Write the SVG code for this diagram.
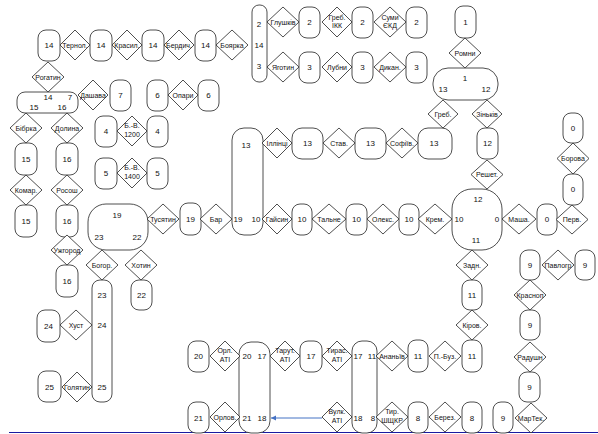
<svg xmlns="http://www.w3.org/2000/svg" width="598" height="434" viewBox="0 0 598 434">
<style>
.b{fill:#fff;stroke:#222;stroke-width:0.8}
.d{fill:#fff;stroke:#222;stroke-width:0.8}
text{font-family:"Liberation Sans Narrow","Liberation Sans",Arial,sans-serif;font-size:8px;fill:#111;text-anchor:middle}
.s{font-size:7px}
</style>
<defs>
<marker id="ah" markerWidth="6" markerHeight="6" refX="5" refY="3" orient="auto" markerUnits="userSpaceOnUse">
<path d="M0,0.5 L5,3 L0,5.5 Z" fill="#4472c4"/>
</marker>
</defs>
<rect width="598" height="434" fill="#fff"/>
<g id="connectors">
<line x1="322" y1="418" x2="271" y2="418" stroke="#4472c4" stroke-width="1" marker-end="url(#ah)"/>
<line x1="9" y1="432.5" x2="598" y2="432.5" stroke="#1a1aa0" stroke-width="1.2"/>
</g>
<g id="boxes">
<g id="b1"><rect class="b" x="38" y="30" width="22" height="31" rx="8"/><text x="49" y="48">14</text></g>
<g id="b2"><rect class="b" x="90" y="30" width="22" height="31" rx="8"/><text x="101" y="48">14</text></g>
<g id="b3"><rect class="b" x="142" y="30" width="22" height="31" rx="8"/><text x="153" y="48">14</text></g>
<g id="b4"><rect class="b" x="195" y="30" width="21" height="31" rx="8"/><text x="205.5" y="48">14</text></g>
<g id="b5"><rect class="b" x="252" y="5" width="15" height="77" rx="7"/><text x="259" y="27">2</text><text x="259" y="48">14</text><text x="259" y="69">3</text></g>
<g id="b6"><rect class="b" x="299" y="7" width="21" height="31" rx="8"/><text x="309.5" y="25">2</text></g>
<g id="b7"><rect class="b" x="352" y="7" width="21" height="31" rx="8"/><text x="362.5" y="25">2</text></g>
<g id="b8"><rect class="b" x="406" y="7" width="21" height="31" rx="8"/><text x="416.5" y="25">2</text></g>
<g id="b9"><rect class="b" x="299" y="52" width="21" height="31" rx="8"/><text x="309.5" y="70">3</text></g>
<g id="b10"><rect class="b" x="352" y="52" width="21" height="31" rx="8"/><text x="362.5" y="70">3</text></g>
<g id="b11"><rect class="b" x="406" y="52" width="21" height="31" rx="8"/><text x="416.5" y="70">3</text></g>
<g id="b12"><rect class="b" x="455" y="6" width="21" height="32" rx="8"/><text x="465.5" y="25">1</text></g>
<g id="b13"><rect class="b" x="433" y="68" width="65" height="32" rx="15"/><text x="465" y="81">1</text><text x="443" y="92">13</text><text x="486" y="92">12</text></g>
<g id="b14"><rect class="b" x="17" y="92" width="61" height="21" rx="8"/><text x="48" y="100">14</text><text x="70" y="100">7</text><text x="34" y="110">15</text><text x="62" y="110">16</text></g>
<g id="b15"><rect class="b" x="110" y="80" width="21" height="31" rx="8"/><text x="120.5" y="98">7</text></g>
<g id="b16"><rect class="b" x="147" y="80" width="21" height="31" rx="8"/><text x="157.5" y="98">6</text></g>
<g id="b17"><rect class="b" x="198" y="80" width="21" height="31" rx="8"/><text x="208.5" y="98">6</text></g>
<g id="b18"><rect class="b" x="95" y="116" width="22" height="31" rx="8"/><text x="106" y="134">4</text></g>
<g id="b19"><rect class="b" x="147" y="116" width="21" height="31" rx="8"/><text x="157.5" y="134">4</text></g>
<g id="b20"><rect class="b" x="95" y="158" width="22" height="31" rx="8"/><text x="106" y="176">5</text></g>
<g id="b21"><rect class="b" x="147" y="158" width="21" height="31" rx="8"/><text x="157.5" y="176">5</text></g>
<g id="b22"><rect class="b" x="15" y="143" width="22" height="32" rx="8"/><text x="26" y="162">15</text></g>
<g id="b23"><rect class="b" x="56" y="143" width="22" height="32" rx="8"/><text x="67" y="162">16</text></g>
<g id="b24"><rect class="b" x="15" y="205" width="22" height="32" rx="8"/><text x="26" y="224">15</text></g>
<g id="b25"><rect class="b" x="56" y="205" width="22" height="32" rx="8"/><text x="67" y="224">16</text></g>
<g id="b26"><rect class="b" x="56" y="265" width="22" height="32" rx="8"/><text x="67" y="284">16</text></g>
<g id="b27"><rect class="b" x="88" y="204" width="60" height="46" rx="18"/><text x="117" y="218">19</text><text x="99" y="240">23</text><text x="137" y="240">22</text></g>
<g id="b28"><rect class="b" x="180" y="203" width="21" height="32" rx="8"/><text x="190.5" y="222">19</text></g>
<g id="b29"><rect class="b" x="232" y="128" width="31" height="107" rx="12"/><text x="246" y="148">13</text><text x="238" y="222">19</text><text x="256" y="222">10</text></g>
<g id="b30"><rect class="b" x="292" y="128" width="31" height="31" rx="10"/><text x="307.5" y="146">13</text></g>
<g id="b31"><rect class="b" x="355" y="128" width="31" height="31" rx="10"/><text x="370.5" y="146">13</text></g>
<g id="b32"><rect class="b" x="418" y="128" width="34" height="31" rx="10"/><text x="434" y="146">13</text></g>
<g id="b33"><rect class="b" x="477" y="128" width="21" height="31" rx="8"/><text x="487.5" y="146">12</text></g>
<g id="b34"><rect class="b" x="563" y="113" width="20" height="30" rx="8"/><text x="573" y="131">0</text></g>
<g id="b35"><rect class="b" x="563" y="174" width="20" height="31" rx="8"/><text x="573" y="192">0</text></g>
<g id="b36"><rect class="b" x="292" y="204" width="20" height="31" rx="8"/><text x="302" y="222">10</text></g>
<g id="b37"><rect class="b" x="346" y="204" width="21" height="31" rx="8"/><text x="356.5" y="222">10</text></g>
<g id="b38"><rect class="b" x="399" y="204" width="20" height="31" rx="8"/><text x="409" y="222">10</text></g>
<g id="b39"><rect class="b" x="452" y="189" width="50" height="61" rx="20"/><text x="478" y="202">12</text><text x="459" y="222">10</text><text x="497" y="222">0</text><text x="476" y="243">11</text></g>
<g id="b40"><rect class="b" x="537" y="204" width="20" height="31" rx="8"/><text x="547" y="222">0</text></g>
<g id="b41"><rect class="b" x="131" y="280" width="21" height="30" rx="8"/><text x="141.5" y="298">22</text></g>
<g id="b42"><rect class="b" x="92" y="280" width="20" height="122" rx="8"/><text x="102" y="298">23</text><text x="102" y="328">24</text><text x="102" y="390">25</text></g>
<g id="b43"><rect class="b" x="37" y="310" width="23" height="32" rx="8"/><text x="48.5" y="329">24</text></g>
<g id="b44"><rect class="b" x="38" y="371" width="23" height="31" rx="8"/><text x="49.5" y="390">25</text></g>
<g id="b45"><rect class="b" x="462" y="280" width="20" height="30" rx="8"/><text x="472" y="298">11</text></g>
<g id="b46"><rect class="b" x="462" y="340" width="20" height="32" rx="8"/><text x="472" y="359">11</text></g>
<g id="b47"><rect class="b" x="408" y="340" width="20" height="32" rx="8"/><text x="418" y="359">11</text></g>
<g id="b48"><rect class="b" x="520" y="250" width="20" height="30" rx="8"/><text x="530" y="268">9</text></g>
<g id="b49"><rect class="b" x="575" y="250" width="20" height="30" rx="8"/><text x="585" y="268">9</text></g>
<g id="b50"><rect class="b" x="520" y="310" width="20" height="30" rx="8"/><text x="530" y="328">9</text></g>
<g id="b51"><rect class="b" x="519" y="372" width="21" height="30" rx="8"/><text x="529.5" y="390">9</text></g>
<g id="b52"><rect class="b" x="493" y="402" width="20" height="31" rx="8"/><text x="503" y="421">9</text></g>
<g id="b53"><rect class="b" x="188" y="341" width="21" height="31" rx="8"/><text x="198.5" y="359">20</text></g>
<g id="b54"><rect class="b" x="188" y="402" width="21" height="31" rx="8"/><text x="198.5" y="421">21</text></g>
<g id="b55"><rect class="b" x="239" y="342" width="31" height="91" rx="12"/><text x="247" y="359">20</text><text x="262" y="359">17</text><text x="247" y="421">21</text><text x="262" y="421">18</text></g>
<g id="b56"><rect class="b" x="300" y="341" width="22" height="31" rx="8"/><text x="311" y="359">17</text></g>
<g id="b57"><rect class="b" x="352" y="341" width="25" height="92" rx="10"/><text x="358" y="359">17</text><text x="372" y="359">11</text><text x="358" y="421">18</text><text x="373" y="421">8</text></g>
<g id="b58"><rect class="b" x="408" y="402" width="20" height="31" rx="8"/><text x="418" y="421">8</text></g>
<g id="b59"><rect class="b" x="462" y="402" width="20" height="31" rx="8"/><text x="472" y="421">8</text></g>
</g>
<g id="diamonds">
<g id="d1"><polygon class="d" points="75,30 90,45 75,60 60,45"/><text class="s" x="75" y="47.5">Тернол.</text></g>
<g id="d2"><polygon class="d" points="127,30 142,45 127,60 112,45"/><text class="s" x="127" y="47.5">Красил.</text></g>
<g id="d3"><polygon class="d" points="179,30 194,45 179,60 164,45"/><text class="s" x="179" y="47.5">Бердич.</text></g>
<g id="d4"><polygon class="d" points="232,30 248,45 232,60 216,45"/><text class="s" x="232" y="47.5">Боярка</text></g>
<g id="d5"><polygon class="d" points="283,7 299,22 283,37 267,22"/><text class="s" x="283" y="24.5">Глушків</text></g>
<g id="d6"><polygon class="d" points="337,7 352,22 337,37 322,22"/><text class="s" x="337" y="20">Греб.</text><text class="s" x="337" y="28">ІКК</text></g>
<g id="d7"><polygon class="d" points="390,7 406,22 390,37 374,22"/><text class="s" x="390" y="20">Суми</text><text class="s" x="390" y="28">ЄКД</text></g>
<g id="d8"><polygon class="d" points="283,52 299,67 283,82 267,67"/><text class="s" x="283" y="69.5">Яготин</text></g>
<g id="d9"><polygon class="d" points="337,52 352,67 337,82 322,67"/><text class="s" x="337" y="69.5">Лубни</text></g>
<g id="d10"><polygon class="d" points="390,52 406,67 390,82 374,67"/><text class="s" x="390" y="69.5">Дикан.</text></g>
<g id="d11"><polygon class="d" points="465,38 481,53 465,68 449,53"/><text class="s" x="465" y="55.5">Ромни</text></g>
<g id="d12"><polygon class="d" points="48,62 64,77 48,92 32,77"/><text class="s" x="48" y="79.5">Рогатин</text></g>
<g id="d13"><polygon class="d" points="93,80 108,95 93,110 78,95"/><text class="s" x="93" y="97.5">Дашава</text></g>
<g id="d14"><polygon class="d" points="183,80 198,95 183,110 168,95"/><text class="s" x="183" y="97.5">Опари</text></g>
<g id="d15"><polygon class="d" points="443,100 458,114 443,128 428,114"/><text class="s" x="443" y="116.5">Греб.</text></g>
<g id="d16"><polygon class="d" points="487,100 502,114 487,128 472,114"/><text class="s" x="487" y="116.5">Зіньків</text></g>
<g id="d17"><polygon class="d" points="26,113 42,128 26,143 10,128"/><text class="s" x="26" y="130.5">Бібрка</text></g>
<g id="d18"><polygon class="d" points="67,113 83,128 67,143 51,128"/><text class="s" x="67" y="130.5">Долина</text></g>
<g id="d19"><polygon class="d" points="132,116 147,131 132,146 117,131"/><text class="s" x="132" y="128">Б.-В.</text><text class="s" x="132" y="136.5">1200</text></g>
<g id="d20"><polygon class="d" points="132,158 147,173 132,188 117,173"/><text class="s" x="132" y="170">Б.-В.</text><text class="s" x="132" y="178.5">1400</text></g>
<g id="d21"><polygon class="d" points="26,175 42,190 26,205 10,190"/><text class="s" x="26" y="192.5">Комар.</text></g>
<g id="d22"><polygon class="d" points="67,175 83,190 67,205 51,190"/><text class="s" x="67" y="192.5">Росош</text></g>
<g id="d23"><polygon class="d" points="277,128 292,143 277,158 262,143"/><text class="s" x="277" y="145.5">Іллінці</text></g>
<g id="d24"><polygon class="d" points="339,128 355,143 339,158 323,143"/><text class="s" x="339" y="145.5">Став.</text></g>
<g id="d25"><polygon class="d" points="402,128 418,143 402,158 386,143"/><text class="s" x="402" y="145.5">Софіїв.</text></g>
<g id="d26"><polygon class="d" points="487,160 503,174.5 487,189 471,174.5"/><text class="s" x="487" y="177">Решет.</text></g>
<g id="d27"><polygon class="d" points="573,143 589,158.5 573,174 557,158.5"/><text class="s" x="573" y="161">Борова</text></g>
<g id="d28"><polygon class="d" points="163,204 179,219 163,234 147,219"/><text class="s" x="163" y="221.5">Тусятин</text></g>
<g id="d29"><polygon class="d" points="216,204 232,219 216,234 200,219"/><text class="s" x="216" y="221.5">Бар</text></g>
<g id="d30"><polygon class="d" points="277,204 292,219 277,234 262,219"/><text class="s" x="277" y="221.5">Гайсин</text></g>
<g id="d31"><polygon class="d" points="329,204 346,219 329,234 312,219"/><text class="s" x="329" y="221.5">Тальне</text></g>
<g id="d32"><polygon class="d" points="383,204 399,219 383,234 367,219"/><text class="s" x="383" y="221.5">Олекс.</text></g>
<g id="d33"><polygon class="d" points="435,204 452,219 435,234 418,219"/><text class="s" x="435" y="221.5">Крем.</text></g>
<g id="d34"><polygon class="d" points="519,204 536,219 519,234 502,219"/><text class="s" x="519" y="221.5">Маша.</text></g>
<g id="d35"><polygon class="d" points="572,205 588,219.5 572,234 556,219.5"/><text class="s" x="572" y="222">Перв.</text></g>
<g id="d36"><polygon class="d" points="67,235 83,250 67,265 51,250"/><text class="s" x="67" y="252.5">Ужгород</text></g>
<g id="d37"><polygon class="d" points="102,250 118,265 102,280 86,265"/><text class="s" x="102" y="267.5">Богор.</text></g>
<g id="d38"><polygon class="d" points="141,250 157,265 141,280 125,265"/><text class="s" x="141" y="267.5">Хотин</text></g>
<g id="d39"><polygon class="d" points="472,250 488,265 472,280 456,265"/><text class="s" x="472" y="267.5">Задн.</text></g>
<g id="d40"><polygon class="d" points="558,250 574,265 558,280 542,265"/><text class="s" x="558" y="267.5">Павлогр</text></g>
<g id="d41"><polygon class="d" points="530,280 546,295 530,310 514,295"/><text class="s" x="530" y="297.5">Красноп</text></g>
<g id="d42"><polygon class="d" points="76,310 92,325 76,340 60,325"/><text class="s" x="76" y="327.5">Хуст</text></g>
<g id="d43"><polygon class="d" points="472,310 488,325 472,340 456,325"/><text class="s" x="472" y="327.5">Кіров.</text></g>
<g id="d44"><polygon class="d" points="225,341 240,356 225,371 210,356"/><text class="s" x="225" y="353">Орл.</text><text class="s" x="225" y="361.5">АТІ</text></g>
<g id="d45"><polygon class="d" points="285,341 300,356 285,371 270,356"/><text class="s" x="285" y="353">Тарут.</text><text class="s" x="285" y="361.5">АТІ</text></g>
<g id="d46"><polygon class="d" points="337,341 352,356 337,371 322,356"/><text class="s" x="337" y="353">Тирас.</text><text class="s" x="337" y="361.5">АТІ</text></g>
<g id="d47"><polygon class="d" points="392,341 408,356 392,371 376,356"/><text class="s" x="392" y="358.5">Ананьїв</text></g>
<g id="d48"><polygon class="d" points="445,341 461,356 445,371 429,356"/><text class="s" x="445" y="358.5">П.-Буз.</text></g>
<g id="d49"><polygon class="d" points="530,342 546,357 530,372 514,357"/><text class="s" x="530" y="359.5">Радушн</text></g>
<g id="d50"><polygon class="d" points="77,372 92,387 77,402 62,387"/><text class="s" x="77" y="389.5">Голятин</text></g>
<g id="d51"><polygon class="d" points="225,402 240,417 225,432 210,417"/><text class="s" x="225" y="419.5">Орлов.</text></g>
<g id="d52"><polygon class="d" points="337,402 352,417 337,432 322,417"/><text class="s" x="337" y="414">Вулк.</text><text class="s" x="337" y="422.5">АТІ</text></g>
<g id="d53"><polygon class="d" points="392,402 408,417 392,432 376,417"/><text class="s" x="392" y="414">Тир.</text><text class="s" x="392" y="422.5">ШЩКР</text></g>
<g id="d54"><polygon class="d" points="445,402 461,417 445,432 429,417"/><text class="s" x="445" y="419.5">Берез.</text></g>
<g id="d55"><polygon class="d" points="531,403 547,418 531,433 515,418"/><text class="s" x="531" y="420.5">МарТек.</text></g>
</g>
</svg>
